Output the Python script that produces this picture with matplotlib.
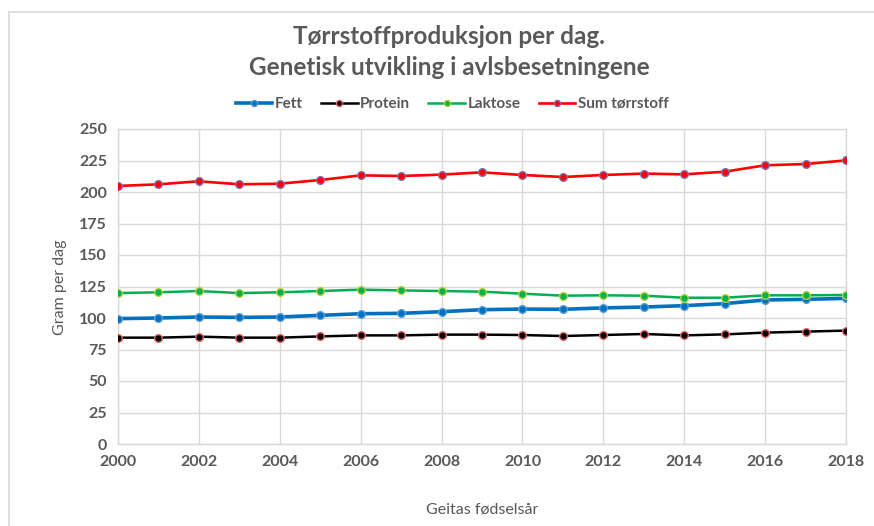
import matplotlib
matplotlib.use("Agg")
import matplotlib.pyplot as plt
from matplotlib.patches import Rectangle

years = list(range(2000, 2019))
fett = [99.5, 100.0, 100.8, 100.5, 100.8, 102.1, 103.4, 103.7, 105.0, 106.6, 107.1, 106.9, 108.0, 108.7, 109.8, 111.4, 114.3, 114.8, 115.6]
protein = [84.4, 84.4, 85.2, 84.4, 84.4, 85.4, 86.2, 86.2, 86.8, 86.8, 86.5, 85.7, 86.5, 87.3, 86.2, 87.0, 88.4, 89.2, 90.0]
laktose = [119.8, 120.4, 121.4, 119.8, 120.4, 121.4, 122.5, 121.9, 121.4, 120.9, 119.3, 117.7, 118.0, 117.7, 116.1, 116.1, 118.0, 118.0, 118.3]
sum_tot = [204.8, 206.1, 208.5, 206.1, 206.6, 209.5, 213.2, 212.7, 213.8, 215.6, 213.5, 211.9, 213.5, 214.6, 214.0, 216.1, 221.2, 222.2, 225.1]

labels = ["Fett", "Protein", "Laktose", "Sum tørrstoff"]
title = "Tørrstoffproduksjon per dag.\nGenetisk utvikling i avlsbesetningene"
xlabel = "Geitas fødselsår"
ylabel = "Gram per dag"

plt.rcParams['font.family'] = ['Lato', 'DejaVu Sans']
TXT = "#595959"
W, H = 874, 526
fig = plt.figure(figsize=(W / 100, H / 100), dpi=100)

# outer chart border (left/top visible)
fig.patches.append(Rectangle((9 / W, -0.1), 1.2, (H - 12) / H + 0.1, transform=fig.transFigure,
                             fill=False, edgecolor="#d9d9d9", linewidth=1.2))

l, r, t, b = 118, 846, 129, 444
ax = fig.add_axes([l / W, 1 - b / H, (r - l) / W, (b - t) / H])

styles = [
    dict(color="#0070C0", lw=2.6, mfc="#0070C0", mec="#5B9BD5"),
    dict(color="#000000", lw=1.8, mfc="#000000", mec="#E06666"),
    dict(color="#00B050", lw=1.8, mfc="#00B050", mec="#B5CF3B"),
    dict(color="#FF0000", lw=1.9, mfc="#FF0000", mec="#7F6FAF"),
]
for data, lab, st in zip([fett, protein, laktose, sum_tot], labels, styles):
    ax.plot(years, data, color=st["color"], lw=st["lw"], marker="o", ms=5.5,
            mfc=st["mfc"], mec=st["mec"], mew=1.0, label=lab, zorder=3)

ax.set_xlim(2000, 2018)
ax.set_ylim(0, 250)
ax.set_xticks(range(2000, 2019, 2))
ax.set_yticks(range(0, 251, 25))
ax.grid(True, color="#d9d9d9", lw=1.0)
ax.set_axisbelow(True)
for s in ax.spines.values():
    s.set_color("#d9d9d9")
    s.set_linewidth(1.0)
ax.tick_params(length=0, labelsize=11.5, labelcolor=TXT, pad=8)
for lb in ax.get_xticklabels() + ax.get_yticklabels():
    lb.set_fontweight("bold")

fig.text(60 / W, 1 - 287 / H, ylabel, rotation=90, ha="center", va="center", fontsize=11.5, color=TXT)
fig.text(482 / W, 1 - 510 / H, xlabel, ha="center", va="center", fontsize=11.5, color=TXT)
fig.text(449 / W, 1 - 52 / H, title, ha="center", va="center", fontsize=17.5, fontweight="bold",
         color=TXT, linespacing=1.45)

leg = fig.legend(loc="center", bbox_to_anchor=(452 / W, 1 - 104 / H), ncol=4, frameon=False,
                 fontsize=11, handlelength=2.4, handletextpad=0.15, columnspacing=1.2, markerscale=0.8)
for txt in leg.get_texts():
    txt.set_color(TXT)
    txt.set_fontweight("bold")

fig.savefig("out.png", dpi=100)
